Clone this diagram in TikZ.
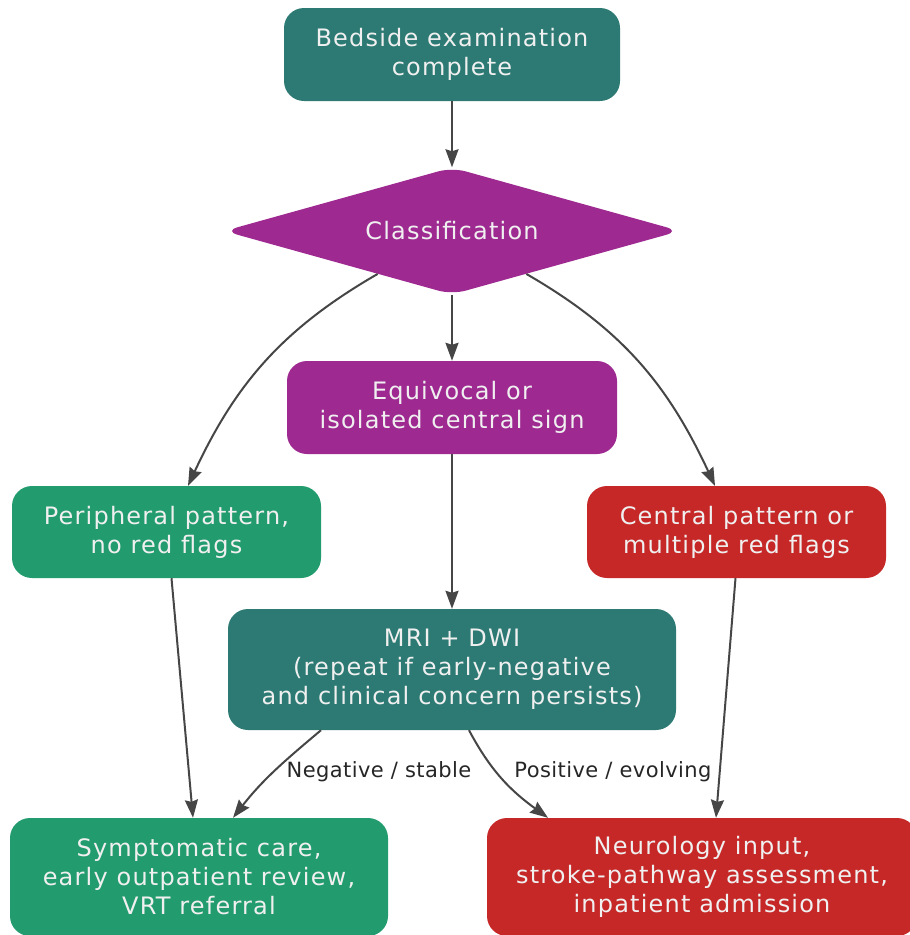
\documentclass[tikz,border=0pt]{standalone}
\usepackage{fontspec}
\setmainfont{DejaVu Sans}
\newfontfamily\boxfont[LetterSpace=5.0]{DejaVu Sans}
\newfontfamily\lblfont[LetterSpace=2.0]{DejaVu Sans}
\usetikzlibrary{shapes.geometric,arrows.meta}

\definecolor{tealbox}{RGB}{44,122,115}
\definecolor{purplebox}{RGB}{158,42,145}
\definecolor{greenbox}{RGB}{34,155,110}
\definecolor{redbox}{RGB}{198,40,40}
\definecolor{boxtext}{RGB}{240,240,240}
\definecolor{edgegray}{RGB}{70,70,70}

\tikzset{
  box/.style={rectangle, rounded corners=20pt, draw=none, text=boxtext,
    align=center, inner sep=0pt,
    font=\boxfont\fontsize{24}{29}\selectfont},
  decision/.style={diamond, aspect=3.6, rounded corners=14pt, draw=none,
    fill=purplebox, text=boxtext, inner sep=0pt,
    minimum width=456pt, minimum height=127pt,
    font=\boxfont\fontsize{24}{29}\selectfont},
  edge/.style={draw=edgegray, line width=2pt,
    -{Stealth[length=18pt,width=13pt,inset=2pt]}},
  lbl/.style={text=black!85, inner sep=0pt, font=\lblfont\fontsize{21}{25}\selectfont}
}

\begin{document}
\begin{tikzpicture}[x=1pt,y=-1pt]
  \useasboundingbox (0,0) rectangle (910,935);

  % nodes
  \node[box, fill=tealbox, minimum width=336pt, minimum height=93pt]
    (start) at (452,54.5) {Bedside examination\\complete};
  \node[decision] (cls) at (452,231) {Classification};
  \node[box, fill=purplebox, minimum width=330pt, minimum height=93pt]
    (equ) at (452,407.5) {Equivocal or\\isolated central sign};
  \node[box, fill=greenbox, minimum width=309pt, minimum height=92pt]
    (per) at (166.5,532) {Peripheral pattern,\\no red flags};
  \node[box, fill=redbox, minimum width=299pt, minimum height=92pt]
    (cen) at (736.5,532) {Central pattern or\\multiple red flags};
  \node[box, fill=tealbox, minimum width=448pt, minimum height=121pt]
    (mri) at (452,669.5) {MRI + DWI\\(repeat if early-negative\\and clinical concern persists)};
  \node[box, fill=greenbox, minimum width=378pt, minimum height=118pt]
    (sym) at (199,877) {Symptomatic care,\\early outpatient review,\\VRT referral};
  \node[box, fill=redbox, minimum width=430pt, minimum height=118pt]
    (neu) at (702,877) {Neurology input,\\stroke-pathway assessment,\\inpatient admission};

  % edge labels
  \node[lbl] (lneg) at (379,772) {Negative / stable};
  \node[lbl] (lpos) at (613,772) {Positive / evolving};

  % connectors
  \draw[edge] (start.south) -- (cls.north);
  \draw[edge] (cls.south) -- (equ.north);
  \draw[edge] (equ.south) -- (mri.north);
  \draw[edge] (cls) to[out=-150,in=65] (per);
  \draw[edge] (cls) to[out=-30,in=115] (cen);
  \draw[edge] ([xshift=5pt]per.south) -- ([xshift=-6pt]sym.north);
  \draw[edge] ([xshift=-1pt]cen.south) -- ([xshift=14pt]neu.north);
  \draw[edge] ([xshift=-131pt]mri.south) to[out=-140,in=52] ([xshift=34pt]sym.north);
  \draw[edge] ([xshift=17pt]mri.south) to[out=-62,in=144] ([xshift=-154pt]neu.north);
\end{tikzpicture}
\end{document}
